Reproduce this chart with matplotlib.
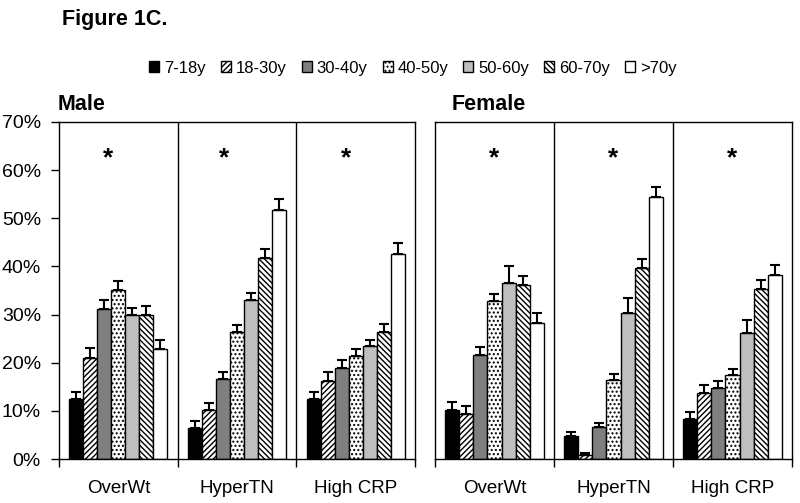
import matplotlib
matplotlib.use("Agg")
import matplotlib.pyplot as plt
import numpy as np
from matplotlib.patches import Patch

plt.rcParams['font.family'] = ['Liberation Sans', 'DejaVu Sans']
plt.rcParams['hatch.linewidth'] = 1.0

age_groups = ['7-18y', '18-30y', '30-40y', '40-50y', '50-60y', '60-70y', '>70y']
categories = ['OverWt', 'HyperTN', 'High CRP']

# rows: categories, cols: age groups (percent)
male_vals = [
    [12.4, 20.9, 31.1, 35.2, 30.0, 30.0, 22.8],
    [6.5, 10.2, 16.6, 26.3, 33.0, 41.8, 51.7],
    [12.4, 16.1, 19.0, 21.4, 23.4, 26.3, 42.5],
]
male_err = [
    [1.6, 2.1, 1.9, 1.7, 1.4, 1.8, 1.9],
    [1.3, 1.5, 1.5, 1.6, 1.5, 1.8, 2.4],
    [1.5, 1.9, 1.6, 1.4, 1.4, 1.8, 2.3],
]
female_vals = [
    [10.1, 9.4, 21.7, 32.8, 36.5, 36.2, 28.3],
    [4.7, 0.8, 6.6, 16.5, 30.3, 39.7, 54.4],
    [8.3, 13.7, 14.7, 17.5, 26.2, 35.4, 38.2],
]
female_err = [
    [1.7, 1.6, 1.6, 1.5, 3.6, 1.9, 2.0],
    [1.0, 0.4, 0.8, 1.1, 3.1, 1.8, 2.2],
    [1.5, 1.7, 1.4, 1.2, 2.6, 1.8, 2.1],
]
male_star_x = [0.41, 1.395, 2.42]
female_star_x = [0.5, 1.5, 2.5]
star_y = 62.5

colors = ['black', 'white', '#7f7f7f', 'white', '#bfbfbf', 'white', 'white']
hatches = [None, '//////', None, '....', None, '\\\\\\\\\\\\', None]

fig = plt.figure(figsize=(8, 5.03), dpi=100)
ax_m = fig.add_axes([59/800, 1-459/503, 356/800, 337/503])
ax_f = fig.add_axes([435/800, 1-459/503, 357/800, 337/503])

bw = 0.118
x = np.arange(len(categories)) + 0.5

def draw(ax, vals, errs, star_x, title, title_x):
    vals = np.array(vals)
    errs = np.array(errs)
    for i in range(len(age_groups)):
        pos = x + (i - 3) * bw
        ax.bar(pos, vals[:, i], width=bw, color=colors[i], hatch=hatches[i],
               edgecolor='black', linewidth=1.0, zorder=2)
        ax.errorbar(pos, vals[:, i], yerr=[np.zeros(3), errs[:, i]], fmt='none',
                    ecolor='black', elinewidth=1.5, capsize=3.5, capthick=1.5, zorder=3)
    for sx in star_x:
        ax.text(sx, star_y, '*', ha='center', va='center', fontsize=19, fontweight='bold')
    ax.set_xlim(0, 3)
    ax.set_ylim(0, 70)
    for d in [1, 2]:
        ax.axvline(d, color='black', lw=1.0, zorder=1)
    for s in ax.spines.values():
        s.set_linewidth(1.0)
        s.set_color('black')
    ax.set_xticks([0, 1, 2, 3])
    ax.set_xticklabels([])
    ax.tick_params(axis='x', which='major', direction='out', length=6, width=1)
    ax.set_xticks(x, minor=True)
    ax.set_xticklabels(categories, minor=True, fontsize=13.5)
    ax.tick_params(axis='x', which='minor', length=0, pad=15)
    fig.text(title_x/800, 1-105/503, title, ha='left', va='center',
             fontsize=15.5, fontweight='bold')

draw(ax_m, male_vals, male_err, male_star_x, 'Male', 58)
draw(ax_f, female_vals, female_err, female_star_x, 'Female', 452)

ax_m.set_yticks(np.arange(0, 71, 10))
ax_m.set_yticklabels([f'{v}%' for v in range(0, 71, 10)], fontsize=14)
ax_m.tick_params(axis='y', direction='out', length=6, width=1, pad=7)
ax_f.set_yticks([])

fig.text(62/800, 1-19/503, 'Figure 1C.', ha='left', va='center', fontsize=15.5, fontweight='bold')

handles = [Patch(facecolor=colors[i], edgecolor='black', hatch=hatches[i], linewidth=1.0)
           for i in range(len(age_groups))]
fig.legend(handles, age_groups, loc='center', bbox_to_anchor=(413/800, 1-68/503), ncol=7,
           frameon=False, fontsize=12, handlelength=0.6, handleheight=0.6,
           handletextpad=0.3, columnspacing=0.9, borderaxespad=0)

fig.savefig('out.png', dpi=100)
